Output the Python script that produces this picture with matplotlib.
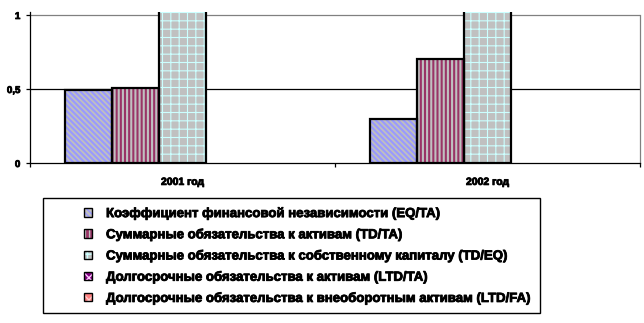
import matplotlib
matplotlib.use("Agg")
import matplotlib.pyplot as plt
from matplotlib.patches import Rectangle
from matplotlib.legend_handler import HandlerTuple
import matplotlib.patheffects as pe
import numpy as np

plt.rcParams['font.family'] = ['Liberation Sans', 'DejaVu Sans']
plt.rcParams['font.weight'] = 'bold'

years = ["2001 год", "2002 год"]
series = [
    "Коэффициент финансовой независимости (EQ/TA)",
    "Суммарные обязательства к активам (TD/TA)",
    "Суммарные обязательства к собственному капиталу (TD/EQ)",
    "Долгосрочные обязательства к активам (LTD/TA)",
    "Долгосрочные обязательства к внеоборотным активам (LTD/FA)",
]
eq_ta = [0.49, 0.30]
td_ta = [0.51, 0.70]
td_eq = [1.04, 2.33]
ltd_ta = [0.0, 0.0]
ltd_fa = [0.0, 0.0]
values = [eq_ta, td_ta, td_eq, ltd_ta, ltd_fa]

# fill colour, hatch colour, hatch pattern, hatch width
styles = [
    ("#C0C0C0", "#9999FF", "\\" * 6, 1.5),
    ("#993366", "#C0C0C0", "||||", 1.5),
    ("#C0C0C0", "#CCFFFF", "++", 0.8),
    ("#800080", "#FFCCFF", "xxx", 0.8),
    ("#FF8080", "#FFCCCC", "xxx", 0.8),
]
ytick_vals = [0, 0.5, 1]
ytick_text = ["0", "0,5", "1"]

heavy = [pe.withStroke(linewidth=0.6, foreground="black")]

fig = plt.figure(figsize=(6.44, 3.23), dpi=100)
ax = fig.add_axes([30/644, 1-163/323, 610/644, 151/323])

x = np.arange(len(years))
w = 0.154
handles = []
for i, (vals, (fc, hc, hatch, hlw)) in enumerate(zip(values, styles)):
    pos = x + (i - 2) * w
    with plt.rc_context({'hatch.linewidth': hlw}):
        # hatch takes its colour from the edge, so the outline is a second bar
        fills = ax.bar(pos, vals, w, color=fc, edgecolor=hc, hatch=hatch,
                       linewidth=0, zorder=2)
        h_fill = Rectangle((0, 0), 1, 1, facecolor=fc, edgecolor=hc,
                           hatch=hatch, linewidth=0)
    for p in list(fills) + [h_fill]:
        if hasattr(p, "set_hatch_linewidth"):
            p.set_hatch_linewidth(hlw)
    lws = [1.6 if v > 0 else 0 for v in vals]
    ax.bar(pos, vals, w, fill=False, edgecolor="black", linewidth=lws, zorder=3)
    h_edge = Rectangle((0, 0), 1, 1, fill=False, edgecolor="black", linewidth=1.0)
    handles.append((h_fill, h_edge))

ax.set_xlim(-0.5, 1.5)
ax.set_ylim(0, 1.02)
ax.axhline(0.5, color="black", linewidth=0.9, zorder=1)
ax.axhline(1.0, color="#808080", linewidth=0.9, zorder=1)

ax.spines["top"].set_visible(False)
ax.spines["right"].set_bounds(0, 1)
ax.spines["right"].set_color("#808080")
for s in ("left", "bottom", "right"):
    ax.spines[s].set_linewidth(0.9)

ax.set_yticks(ytick_vals)
ax.set_yticklabels(ytick_text, fontsize=7, fontweight="bold")
ax.tick_params(axis="y", direction="out", length=3, width=0.9, pad=4)

ax.set_xticks(x)
ax.set_xticklabels(years, fontsize=7.5, fontweight="bold")
ax.set_xticks([-0.5, 0.5, 1.5], minor=True)
ax.tick_params(axis="x", which="major", length=0, pad=10)
ax.tick_params(axis="x", which="minor", direction="out", length=3, width=0.9)
for t in ax.get_xticklabels() + ax.get_yticklabels():
    t.set_path_effects(heavy)

fig.patches.append(Rectangle((43/644, 1-313/323), 497/644, 115/323,
                             transform=fig.transFigure, fill=False,
                             edgecolor="black", linewidth=1.0))

leg = fig.legend(handles, series, handler_map={tuple: HandlerTuple(ndivide=1, pad=0)},
                 loc="upper left", bbox_to_anchor=(77/644, 1-201/323),
                 frameon=False, prop={"weight": "bold", "size": 9.5},
                 handlelength=0.6, handleheight=0.6, handletextpad=1.1,
                 labelspacing=0.62, borderpad=0)
for t in leg.get_texts():
    t.set_path_effects(heavy)

fig.savefig("out.png", dpi=100, facecolor="white")
